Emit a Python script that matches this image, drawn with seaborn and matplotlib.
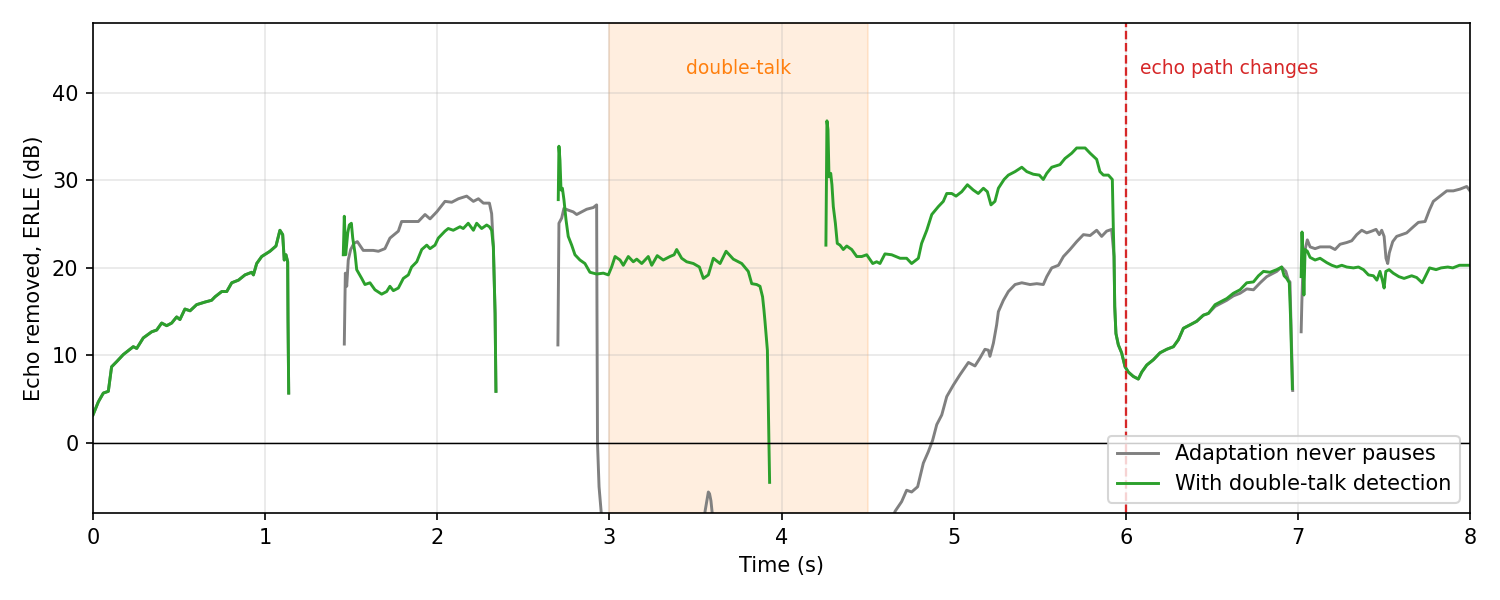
import matplotlib
matplotlib.use("Agg")
import numpy as np
import pandas as pd
import seaborn as sns
import matplotlib.pyplot as plt

# series names / colours
ALWAYS = "Adaptation never pauses"
DTD = "With double-talk detection"

# --- segment 1 (both filters identical) ---
seg1_t = [0.0, 0.031, 0.06, 0.089, 0.108, 0.138, 0.176, 0.234, 0.254, 0.292, 0.341, 0.37, 0.399,
          0.428, 0.457, 0.486, 0.505, 0.534, 0.564, 0.602, 0.651, 0.689, 0.709, 0.748, 0.777, 0.806,
          0.845, 0.883, 0.922, 0.932, 0.951, 0.98, 1.028, 1.063, 1.086, 1.102, 1.111, 1.121, 1.131,
          1.133, 1.137]
seg1_db = [3.2, 4.7, 5.7, 5.9, 8.7, 9.3, 10.1, 11.0, 10.8, 12.0, 12.7, 12.9, 13.7, 13.4, 13.7, 14.4,
           14.1, 15.3, 15.1, 15.8, 16.1, 16.3, 16.7, 17.3, 17.3, 18.3, 18.6, 19.2, 19.5, 19.2, 20.5,
           21.3, 21.9, 22.5, 24.3, 23.8, 20.9, 21.5, 20.7, 14.1, 5.7]

# --- segment 2 ---
dtd2_t = [1.454, 1.460, 1.468, 1.480, 1.489, 1.501, 1.509, 1.522, 1.532, 1.561, 1.580, 1.609, 1.638,
          1.677, 1.706, 1.725, 1.745, 1.774, 1.803, 1.832, 1.851, 1.881, 1.910, 1.939, 1.958, 1.987,
          2.006, 2.045, 2.064, 2.093, 2.132, 2.151, 2.180, 2.210, 2.229, 2.258, 2.287, 2.303, 2.316,
          2.326, 2.336, 2.341]
dtd2_db = [21.5, 25.9, 21.5, 24.0, 24.9, 25.1, 23.4, 21.7, 19.8, 18.8, 18.1, 18.3, 17.5, 17.0, 17.3,
           17.9, 17.4, 17.7, 18.8, 19.2, 20.1, 20.7, 22.1, 22.6, 22.2, 22.6, 23.4, 24.2, 24.5, 24.3,
           24.7, 24.5, 25.1, 24.3, 25.1, 24.5, 24.9, 24.7, 24.3, 22.4, 14.8, 5.9]
always2_t = [1.460, 1.466, 1.474, 1.483, 1.497, 1.516, 1.536, 1.570, 1.628, 1.658, 1.696, 1.725,
             1.774, 1.793, 1.842, 1.890, 1.929, 1.958, 1.997, 2.045, 2.084, 2.123, 2.171, 2.210,
             2.239, 2.268, 2.303, 2.316, 2.326, 2.336, 2.341]
always2_db = [11.3, 19.4, 17.9, 20.9, 22.1, 22.8, 23.0, 22.0, 22.0, 21.9, 22.2, 23.4, 24.2, 25.3,
              25.3, 25.3, 26.1, 25.6, 26.4, 27.6, 27.5, 27.9, 28.2, 27.6, 27.9, 27.4, 27.4, 26.2,
              22.4, 14.8, 5.9]

# --- segment 3 (double-talk, green stops before 4 s) ---
dtd3_t = [2.703, 2.707, 2.713, 2.719, 2.727, 2.736, 2.748, 2.761, 2.781, 2.800, 2.829, 2.858, 2.887,
          2.926, 2.965, 2.994, 3.013, 3.033, 3.062, 3.081, 3.110, 3.139, 3.159, 3.188, 3.226, 3.246,
          3.278, 3.313, 3.352, 3.376, 3.391, 3.420, 3.449, 3.488, 3.523, 3.546, 3.575, 3.604, 3.643,
          3.678, 3.720, 3.769, 3.807, 3.827, 3.856, 3.875, 3.890, 3.898, 3.904, 3.918, 3.923, 3.927,
          3.931]
dtd3_db = [27.8, 33.9, 32.3, 28.9, 29.1, 27.8, 25.5, 23.6, 22.6, 21.5, 20.9, 20.5, 19.5, 19.3, 19.4,
           19.2, 20.1, 21.3, 20.9, 20.3, 21.3, 20.7, 21.0, 20.5, 21.3, 20.3, 21.4, 20.9, 21.3, 21.5,
           22.1, 21.1, 20.7, 20.5, 20.1, 18.8, 19.2, 21.1, 20.5, 21.9, 21.0, 20.5, 19.6, 18.2, 18.1,
           17.9, 16.7, 15.2, 13.9, 10.6, 4.9, 0.0, -4.5]

# --- segment 4 (green restarts, echo path change) ---
dtd4_t = [4.258, 4.264, 4.270, 4.276, 4.286, 4.293, 4.301, 4.313, 4.324, 4.340, 4.359, 4.379, 4.408,
          4.437, 4.466, 4.495, 4.530, 4.553, 4.572, 4.601, 4.640, 4.689, 4.727, 4.756, 4.795, 4.814,
          4.844, 4.873, 4.911, 4.940, 4.960, 4.989, 5.014, 5.047, 5.080, 5.114, 5.143, 5.173, 5.196,
          5.217, 5.240, 5.260, 5.293, 5.318, 5.357, 5.396, 5.425, 5.463, 5.498, 5.521, 5.541, 5.570,
          5.618, 5.647, 5.686, 5.715, 5.764, 5.793, 5.831, 5.850, 5.870, 5.899, 5.922, 5.928, 5.932,
          5.936, 5.943, 5.957, 5.976, 5.996, 6.015, 6.044, 6.073, 6.093, 6.122, 6.160, 6.199, 6.238,
          6.277, 6.306, 6.335, 6.374, 6.412, 6.451, 6.480, 6.519, 6.548, 6.587, 6.625, 6.664, 6.703,
          6.742, 6.771, 6.800, 6.838, 6.877, 6.906, 6.920, 6.935, 6.950, 6.958, 6.968]
dtd4_db = [22.6, 36.8, 35.8, 30.4, 30.8, 29.5, 27.0, 25.1, 22.8, 22.6, 22.1, 22.5, 22.1, 21.3, 21.3,
           21.5, 20.5, 20.7, 20.5, 21.6, 21.5, 21.1, 21.1, 20.5, 21.1, 22.8, 24.3, 26.1, 27.0, 27.6,
           28.5, 28.5, 28.2, 28.7, 29.5, 28.9, 28.5, 29.1, 28.7, 27.2, 27.6, 29.1, 30.1, 30.6, 31.0,
           31.5, 31.0, 30.7, 30.6, 30.1, 30.8, 31.5, 31.8, 32.5, 33.1, 33.7, 33.7, 33.1, 32.4, 31.0,
           30.6, 30.6, 30.1, 24.3, 21.3, 15.6, 12.5, 11.2, 10.3, 8.7, 8.1, 7.6, 7.3, 8.1, 8.9, 9.5,
           10.3, 10.7, 11.0, 11.8, 13.1, 13.5, 13.9, 14.6, 14.8, 15.8, 16.1, 16.5, 17.1, 17.5, 18.3,
           18.4, 19.1, 19.6, 19.5, 19.8, 20.1, 19.1, 18.8, 18.3, 14.1, 6.2]

# gray keeps adapting through the double talk and diverges (off the bottom of the axis)
always3_t = [2.701, 2.707, 2.723, 2.736, 2.761, 2.790, 2.810, 2.839, 2.868, 2.907, 2.926, 2.928,
             2.931, 2.940, 2.955, 2.98, 3.1, 3.3, 3.5, 3.545, 3.556, 3.575, 3.582, 3.590, 3.600,
             3.62, 3.8, 4.2, 4.6, 4.660, 4.698, 4.727, 4.756, 4.791, 4.824, 4.853, 4.878, 4.902,
             4.931, 4.960, 4.998, 5.037, 5.086, 5.124, 5.153, 5.182, 5.202, 5.211, 5.231, 5.250,
             5.260, 5.289, 5.318, 5.357, 5.396, 5.444, 5.483, 5.521, 5.541, 5.570, 5.609, 5.638,
             5.676, 5.715, 5.754, 5.793, 5.831, 5.860, 5.889, 5.918,
             5.932, 5.936, 5.943, 5.957, 5.976, 5.996, 6.015, 6.044, 6.073, 6.093, 6.122, 6.160,
             6.199, 6.238, 6.277, 6.306, 6.335, 6.374, 6.412, 6.451, 6.480, 6.519, 6.548, 6.587,
             6.625, 6.664, 6.703, 6.742, 6.781, 6.819, 6.877, 6.906, 6.930, 6.945, 6.954, 6.962,
             6.970]
always3_db = [11.2, 25.1, 25.7, 26.8, 26.6, 26.4, 26.1, 26.4, 26.7, 26.9, 27.2, 15.0, 0.0, -5.0,
              -8.5, -12, -16, -18, -14, -10, -7.8, -5.6, -5.8, -6.6, -8.5, -12, -18, -20, -11,
              -7.8, -6.7, -5.4, -5.6, -5.0, -2.3, -1.0, 0.3, 2.1, 3.2, 5.3, 6.6, 7.8, 9.2, 8.8,
              9.7, 10.7, 10.6, 9.9, 11.4, 13.5, 15.0, 16.3, 17.3, 18.1, 18.3, 18.1, 18.2, 18.1,
              19.0, 20.0, 20.3, 21.3, 22.1, 23.0, 23.8, 23.7, 24.3, 23.6, 24.2, 24.4,
              21.3, 15.6, 12.5, 11.2, 10.3, 8.7, 8.1, 7.6, 7.3, 8.1, 8.9, 9.5, 10.3, 10.7, 11.0,
              11.8, 13.1, 13.5, 13.9, 14.6, 14.8, 15.6, 15.9, 16.3, 16.8, 17.1, 17.6, 17.5, 18.3,
              19.0, 19.6, 20.1, 19.6, 18.6, 18.4, 12.0, 6.0]

# --- segment 5 ---
dtd5_t = [7.019, 7.024, 7.029, 7.035, 7.042, 7.055, 7.071, 7.100, 7.129, 7.168, 7.197, 7.226, 7.255,
          7.284, 7.323, 7.352, 7.381, 7.410, 7.439, 7.459, 7.477, 7.491, 7.501, 7.511, 7.530, 7.554,
          7.587, 7.617, 7.661, 7.690, 7.722, 7.740, 7.765, 7.803, 7.832, 7.871, 7.900, 7.939, 8.0]
dtd5_db = [19.0, 24.1, 21.3, 16.9, 22.1, 21.9, 21.2, 20.9, 21.1, 20.6, 20.3, 20.1, 20.3, 20.1, 20.0,
           20.1, 19.8, 19.2, 19.1, 18.6, 19.6, 18.6, 17.7, 19.6, 19.8, 19.4, 19.0, 18.8, 19.1, 18.9,
           18.3, 19.0, 20.0, 19.8, 20.0, 20.1, 20.0, 20.3, 20.3]
always5_t = [7.019, 7.023, 7.029, 7.042, 7.055, 7.071, 7.100, 7.129, 7.158, 7.187, 7.216, 7.245,
             7.284, 7.313, 7.342, 7.371, 7.400, 7.429, 7.454, 7.473, 7.487, 7.501, 7.512, 7.522,
             7.531, 7.551, 7.574, 7.603, 7.632, 7.671, 7.700, 7.739, 7.764, 7.787, 7.826, 7.865,
             7.903, 7.942, 7.981, 8.0]
always5_db = [12.7, 16.0, 19.8, 22.1, 23.2, 22.4, 22.2, 22.4, 22.4, 22.4, 22.1, 22.7, 22.9, 23.1,
              23.8, 24.3, 24.0, 24.2, 24.4, 23.8, 24.3, 23.6, 21.1, 20.5, 21.7, 23.0, 23.6, 23.8,
              24.0, 24.7, 25.2, 25.3, 26.6, 27.6, 28.2, 28.8, 28.8, 29.0, 29.3, 28.8]


def to_frame(label, segments):
    """Stack the segments of one series into a long frame, one unit id per segment."""
    parts = []
    for i, (t, v) in enumerate(segments):
        parts.append(pd.DataFrame({"time": t, "erle": v, "series": label, "seg": f"{label}-{i}"}))
    return pd.concat(parts, ignore_index=True)


df = pd.concat([
    to_frame(ALWAYS, [(seg1_t, seg1_db), (always2_t, always2_db), (always3_t, always3_db),
                      (always5_t, always5_db)]),
    to_frame(DTD, [(seg1_t, seg1_db), (dtd2_t, dtd2_db), (dtd3_t, dtd3_db),
                   (dtd4_t, dtd4_db), (dtd5_t, dtd5_db)]),
], ignore_index=True)

fig, ax = plt.subplots(figsize=(10, 4), dpi=150)
ax.axvspan(3.0, 4.5, color="tab:orange", alpha=0.13, zorder=0)

sns.lineplot(data=df, x="time", y="erle", hue="series", units="seg", estimator=None,
             sort=False, hue_order=[ALWAYS, DTD],
             palette={ALWAYS: "gray", DTD: "tab:green"}, lw=1.4, ax=ax)

ax.axhline(0, color="black", lw=0.7)
ax.axvline(6.0, color="tab:red", ls="--", lw=1.1)
ax.text(3.75, 42.8, "double-talk", color="tab:orange", ha="center", va="center", fontsize=9)
ax.text(6.08, 42.8, "echo path changes", color="tab:red", ha="left", va="center", fontsize=9)

ax.set_xlim(0, 8)
ax.set_ylim(-8, 48)
ax.set_yticks([0, 10, 20, 30, 40])
ax.grid(alpha=0.3)
ax.set_xlabel("Time (s)")
ax.set_ylabel("Echo removed, ERLE (dB)")
sns.move_legend(ax, "lower right", title=None)

fig.subplots_adjust(left=0.062, right=0.98, bottom=0.145, top=0.962)
fig.savefig("out.png", dpi=150)
